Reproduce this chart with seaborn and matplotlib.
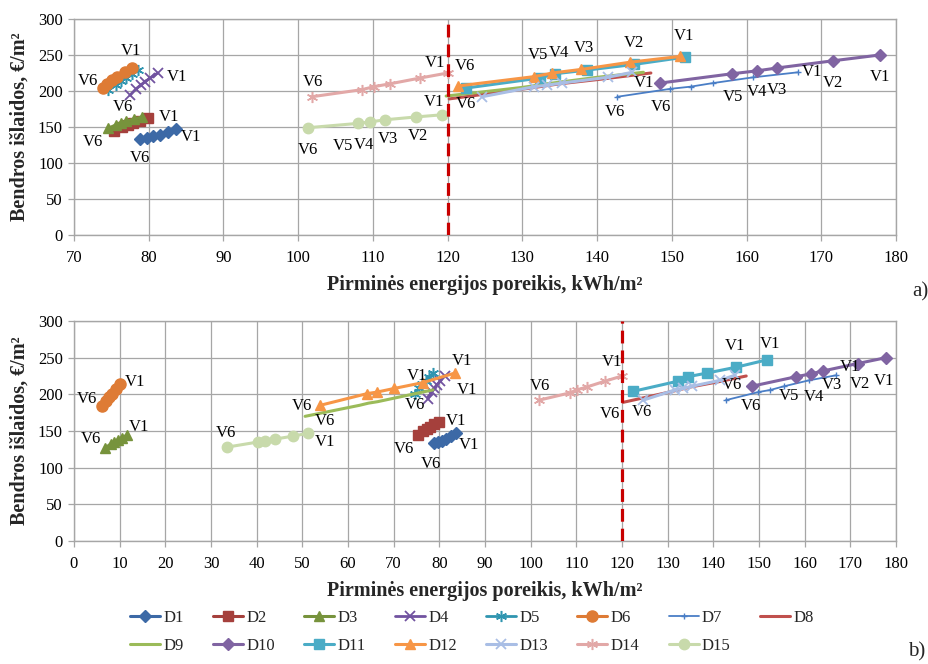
import matplotlib
matplotlib.use("Agg")
import matplotlib.pyplot as plt
import seaborn as sns
import pandas as pd

sns.set_theme(style="white")
plt.rcParams["font.family"] = ["Liberation Serif", "DejaVu Serif"]

SERIES = ["D1", "D2", "D3", "D4", "D5", "D6", "D7", "D8",
          "D9", "D10", "D11", "D12", "D13", "D14", "D15"]
X_LABEL = "Pirminės energijos poreikis, kWh/m²"
Y_LABEL = "Bendros išlaidos, €/m²"

# values ordered V1 .. V6
d1_x = [83.7, 82.6, 81.5, 80.6, 79.8, 78.8]
d1_y = [147, 143, 139, 137, 135, 133]
d2_x = [79.9, 78.8, 77.9, 77.2, 76.4, 75.3]
d2_y = [162, 159, 156, 153, 150, 144]
d3_x_a = [79.1, 78.0, 77.0, 76.3, 75.6, 74.6]
d3_y_a = [164, 161, 158, 156, 153, 148]
d3_x_b = [11.5, 10.5, 9.6, 8.8, 8.0, 6.8]
d3_y_b = [144, 141, 138, 135, 132, 127]
d4_x = [81.2, 80.2, 79.5, 78.9, 78.3, 77.5]
d4_y = [225, 218, 213, 208, 203, 194]
d5_x = [78.6, 77.8, 77.0, 76.3, 75.6, 74.6]
d5_y = [229, 223, 218, 214, 209, 201]
d6_x_a = [77.8, 76.8, 75.8, 75.1, 74.4, 73.9]
d6_y_a = [232, 226, 219, 215, 210, 204]
d6_x_b = [10.1, 9.2, 8.4, 7.7, 7.0, 6.1]
d6_y_b = [214, 207, 201, 196, 191, 184]
d7_x = [166.9, 160.9, 155.5, 152.5, 149.8, 142.7]
d7_y = [226, 219, 211, 206, 203, 192]
d8_x = [147.2, 141.0, 135.0, 133.0, 131.0, 120.2]
d8_y = [225, 217, 210, 207, 204, 189]
d9_x_a = [146.2, 140.0, 134.0, 132.0, 130.0, 119.8]
d9_y_a = [226, 219, 211, 208, 205, 193]
d9_x_b = [78.6, 72.5, 66.5, 64.5, 62.5, 50.6]
d9_y_b = [206, 198, 190, 188, 185, 170]
d10_x = [177.8, 171.6, 164.1, 161.4, 158.1, 148.4]
d10_y = [250, 242, 232, 228, 224, 211]
d11_x = [151.7, 145.0, 138.6, 134.4, 132.3, 122.4]
d11_y = [247, 237, 229, 224, 218, 204]
d12_x_a = [151.1, 144.4, 137.9, 134.0, 131.6, 121.4]
d12_y_a = [248, 240, 230, 225, 220, 207]
d12_x_b = [83.4, 76.4, 70.1, 66.3, 64.2, 53.9]
d12_y_b = [229, 216, 208, 203, 201, 185]
d13_x = [144.7, 141.4, 135.3, 133.3, 131.6, 124.6]
d13_y = [226, 219, 211, 208, 206, 192]
d14_x = [120.0, 116.3, 112.3, 110.1, 108.6, 101.8]
d14_y = [225, 218, 210, 206, 202, 192]
d15_x_a = [119.3, 115.8, 111.6, 109.6, 108.0, 101.3]
d15_y_a = [167, 164, 160, 157, 155, 149]
d15_x_b = [51.2, 48.0, 44.0, 41.8, 40.3, 33.5]
d15_y_b = [147, 143, 139, 136, 135, 128]

common = {
    "D1": (d1_x, d1_y), "D2": (d2_x, d2_y), "D4": (d4_x, d4_y),
    "D5": (d5_x, d5_y), "D7": (d7_x, d7_y), "D8": (d8_x, d8_y),
    "D10": (d10_x, d10_y), "D11": (d11_x, d11_y), "D13": (d13_x, d13_y),
    "D14": (d14_x, d14_y),
}
panel_a = dict(common, D3=(d3_x_a, d3_y_a), D6=(d6_x_a, d6_y_a),
               D9=(d9_x_a, d9_y_a), D12=(d12_x_a, d12_y_a), D15=(d15_x_a, d15_y_a))
panel_b = dict(common, D3=(d3_x_b, d3_y_b), D6=(d6_x_b, d6_y_b),
               D9=(d9_x_b, d9_y_b), D12=(d12_x_b, d12_y_b), D15=(d15_x_b, d15_y_b))

AST = (6, 2, 0)
STYLE = {
    "D1": dict(color="#3C69A6", marker="D", ms=6.5, lw=2.2),
    "D2": dict(color="#A5403C", marker="s", ms=7, lw=2.2),
    "D3": dict(color="#77933C", marker="^", ms=7.5, lw=2.2),
    "D4": dict(color="#7153A0", marker="x", ms=7, lw=2.0, mew=1.3),
    "D5": dict(color="#2F95B0", marker=AST, ms=8, lw=2.0, mew=1.1),
    "D6": dict(color="#DE7B35", marker="o", ms=8, lw=2.2),
    "D7": dict(color="#4A7EC6", marker="+", ms=5, lw=1.3, mew=1.0),
    "D8": dict(color="#C0504D", marker="", ms=0, lw=2.2),
    "D9": dict(color="#9BBB59", marker="", ms=0, lw=2.2),
    "D10": dict(color="#8064A2", marker="D", ms=6, lw=2.2),
    "D11": dict(color="#4BACC6", marker="s", ms=7, lw=2.2),
    "D12": dict(color="#F79646", marker="^", ms=7.5, lw=2.2),
    "D13": dict(color="#A9BEE5", marker="x", ms=7, lw=2.2, mew=1.3),
    "D14": dict(color="#E2A8A7", marker=AST, ms=8, lw=2.2, mew=1.1),
    "D15": dict(color="#C8DAAB", marker="o", ms=7.5, lw=2.2),
}

# (series, V-number, dx px, dy px) label offsets from the point
LABELS_A = [
    ("D6", 1, -1, -17), ("D6", 6, -15, -7), ("D4", 1, 19, 4), ("D4", 6, -7, 12),
    ("D2", 1, 21, -1), ("D3", 6, -15, 14), ("D1", 1, 15, 8), ("D1", 6, 0, 19),
    ("D14", 6, 1, -15), ("D14", 1, -13, -10),
    ("D15", 6, 0, 22), ("D15", 5, -15, 23), ("D15", 4, -6, 23), ("D15", 3, 3, 19),
    ("D15", 2, 2, 19), ("D15", 1, -8, -13),
    ("D12", 6, 7, -20), ("D8", 6, 17, 5),
    ("D12", 5, 4, -22), ("D12", 4, 7, -20), ("D12", 3, 3, -21), ("D12", 2, 4, -19),
    ("D12", 1, 4, -20), ("D8", 1, -7, 10), ("D7", 6, -2, 15), ("D7", 1, 14, 0),
    ("D10", 6, 1, 24), ("D10", 5, 1, 23), ("D10", 4, 0, 21), ("D10", 3, 0, 22),
    ("D10", 2, 0, 22), ("D10", 1, 0, 22),
]
LABELS_B = [
    ("D6", 1, 15, -2), ("D6", 6, -15, -7), ("D3", 1, 12, -8), ("D3", 6, -14, -9),
    ("D15", 6, -1, -14), ("D15", 1, 17, 9), ("D12", 6, -18, 1), ("D9", 6, 20, 5),
    ("D12", 1, 7, -12), ("D9", 1, -16, -14), ("D4", 6, -13, 6), ("D4", 1, 22, 14),
    ("D2", 1, 17, -1), ("D2", 6, -14, 14), ("D1", 1, 13, 12), ("D1", 6, -3, 21),
    ("D14", 6, 1, -14), ("D14", 1, -10, -14), ("D8", 6, -13, 12), ("D13", 6, -1, 12),
    ("D13", 1, 0, -29), ("D11", 1, 3, -16), ("D10", 6, -20, -1), ("D7", 6, 25, 6),
    ("D10", 5, -7, 19), ("D10", 4, 3, 23), ("D10", 3, 9, 14), ("D7", 1, 14, -8),
    ("D10", 2, 2, 20), ("D10", 1, -2, 23),
]

W, H = 929, 664
fig = plt.figure(figsize=(W / 100, H / 100), dpi=100)
ax_a = fig.add_axes([74 / W, 1 - 235 / H, 822 / W, 216 / H])
ax_b = fig.add_axes([74 / W, 1 - 541 / H, 822 / W, 220 / H])

GRID = "#A6A6A6"


def draw(ax, data, labels, xlim, xticks):
    handles = {}
    for name in SERIES:
        xs, ys = data[name]
        st = STYLE[name]
        df = pd.DataFrame({"x": xs, "y": ys})
        sns.lineplot(data=df, x="x", y="y", ax=ax, sort=False, estimator=None,
                     color=st["color"], marker=st["marker"] if st["marker"] else None,
                     markersize=st["ms"], linewidth=st["lw"],
                     markeredgecolor=st["color"], markerfacecolor=st["color"],
                     markeredgewidth=st.get("mew", 1.0), label=name, legend=False,
                     zorder=3)
        handles[name] = ax.lines[-1]
    ax.axvline(120, color="#C80000", lw=2.3, dashes=(4, 2.2), zorder=4)
    for name, v, dx, dy in labels:
        xs, ys = data[name]
        ax.annotate(f"V{v}", xy=(xs[v - 1], ys[v - 1]), xytext=(dx * 0.72, -dy * 0.72),
                    textcoords="offset points", ha="center", va="center",
                    fontsize=12, color="black", zorder=5)
    ax.set_xlim(*xlim)
    ax.set_ylim(0, 300)
    ax.set_xticks(xticks)
    ax.set_yticks(range(0, 301, 50))
    ax.grid(True, color=GRID, lw=0.9)
    ax.set_axisbelow(True)
    for sp in ax.spines.values():
        sp.set_color(GRID)
        sp.set_linewidth(1.0)
    ax.tick_params(axis="both", which="both", direction="out", length=4, width=0.9,
                   color=GRID, labelsize=12, labelcolor="black", pad=4,
                   left=True, bottom=True)
    ax.tick_params(axis="x", pad=6.5)
    ax.set_xlabel(X_LABEL, fontsize=14.5, fontweight="bold", labelpad=7)
    ax.set_ylabel(Y_LABEL, fontsize=14.5, fontweight="bold", labelpad=6)
    return handles


h = draw(ax_a, panel_a, LABELS_A, (70, 180), range(70, 181, 10))
draw(ax_b, panel_b, LABELS_B, (0, 180), range(0, 181, 10))

order = ["D1", "D9", "D2", "D10", "D3", "D11", "D4", "D12", "D5", "D13",
         "D6", "D14", "D7", "D15", "D8"]
fig.legend([h[n] for n in order], order, loc="center",
           bbox_to_anchor=(472 / W, 1 - 632 / H), ncol=8, frameon=False,
           fontsize=12, handlelength=1.8, handletextpad=0.2, columnspacing=1.75,
           labelspacing=0.75)

fig.text(920 / W, 1 - 292 / H, "a)", ha="center", va="center", fontsize=15)
fig.text(917 / W, 1 - 652 / H, "b)", ha="center", va="center", fontsize=15)

fig.savefig("out.png", dpi=100)
